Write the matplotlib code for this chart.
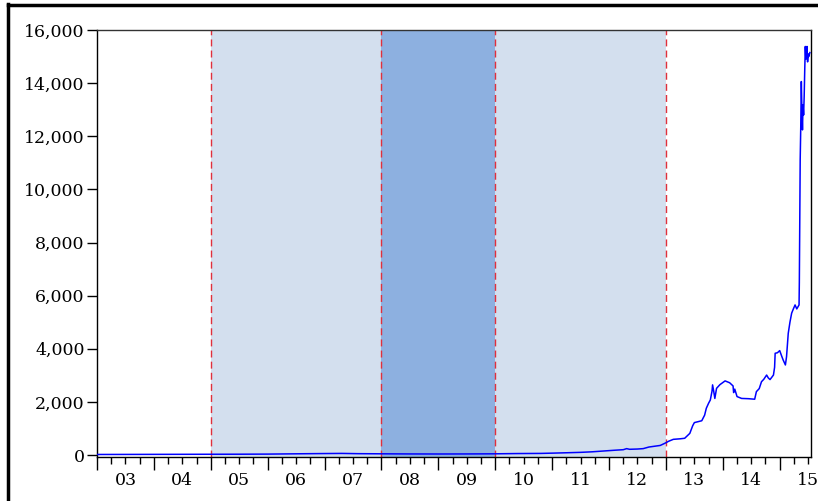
import matplotlib
matplotlib.use('Agg')
import matplotlib.pyplot as plt
from matplotlib.lines import Line2D
from matplotlib.ticker import FuncFormatter, FixedLocator

# price series, decimal years
years = [2003.0, 2003.5, 2004.0, 2004.5, 2005.0, 2005.5, 2006.0, 2006.5, 2007.0,
         2007.3, 2007.6, 2008.0, 2008.5, 2009.0, 2009.5, 2010.0, 2010.4, 2010.8,
         2011.0, 2011.26, 2011.5, 2011.7, 2011.9, 2012.1, 2012.25, 2012.31, 2012.36,
         2012.5, 2012.6, 2012.7, 2012.8, 2012.9, 2012.98, 2013.05, 2013.13, 2013.25,
         2013.33, 2013.42, 2013.47, 2013.5, 2013.63, 2013.68, 2013.71, 2013.75,
         2013.78, 2013.81, 2013.82, 2013.84, 2013.86, 2013.89, 2013.95, 2014.04,
         2014.12, 2014.18, 2014.19, 2014.21, 2014.25, 2014.33, 2014.45, 2014.56,
         2014.59, 2014.64, 2014.68, 2014.72, 2014.77, 2014.8, 2014.83, 2014.89,
         2014.91, 2014.92, 2014.96, 2015.0, 2015.03, 2015.06, 2015.1, 2015.12,
         2015.15, 2015.18, 2015.21, 2015.24, 2015.27, 2015.3, 2015.34, 2015.345,
         2015.35, 2015.36, 2015.37, 2015.38, 2015.39, 2015.4, 2015.41, 2015.42,
         2015.43, 2015.44, 2015.45, 2015.46, 2015.47, 2015.48, 2015.49, 2015.5,
         2015.51, 2015.53]
price = [20, 22, 24, 26, 28, 30, 34, 45, 55, 60, 50, 45, 40, 38, 40, 45, 55, 60,
         70, 85, 100, 120, 150, 180, 200, 240, 215, 225, 240, 300, 330, 360, 440,
         520, 590, 610, 630, 815, 1100, 1220, 1290, 1500, 1760, 1950, 2070, 2400,
         2640, 2400, 2130, 2510, 2650, 2790, 2720, 2600, 2350, 2480, 2200, 2130,
         2120, 2100, 2385, 2500, 2760, 2850, 3010, 2900, 2840, 3010, 3300, 3830,
         3850, 3930, 3750, 3580, 3390, 3700, 4580, 5000, 5340, 5500, 5650, 5500,
         5650, 6500, 8030, 11110, 12360, 14060, 13000, 12240, 13180, 12800, 13500,
         14500, 15380, 14900, 15200, 15380, 14800, 15100, 15000, 15150]

# policy periods
light_spans = [(2005.0, 2008.0), (2010.0, 2013.0)]
dark_spans = [(2008.0, 2010.0)]
breaks = [2005.0, 2008.0, 2010.0, 2013.0]

year_ticks = list(range(2003, 2016))
year_labels = ['03', '04', '05', '06', '07', '08', '09', '10', '11', '12', '13', '14', '15']

plt.rcParams['font.family'] = ['DejaVu Serif']

fig = plt.figure(figsize=(8.18, 5.01), dpi=100)
ax = fig.add_axes([97 / 818, 1 - 457 / 501, 714 / 818, 427 / 501])

for a, b in light_spans:
    ax.axvspan(a, b, color='#d3dfee', lw=0, zorder=0)
for a, b in dark_spans:
    ax.axvspan(a, b, color='#8db0e0', lw=0, zorder=0)
for x in breaks:
    ax.axvline(x, color='#e0303c', lw=1.0, dashes=(5, 3), zorder=1)

ax.plot(years, price, color='#0000ff', lw=1.1, zorder=3)

ax.set_xlim(2003.0, 2015.55)
ax.set_ylim(-75, 16000)

ax.set_yticks(range(0, 16001, 2000))
ax.yaxis.set_major_formatter(FuncFormatter(lambda v, p: f'{int(v):,}'))

ax.set_xticks(year_ticks)
ax.set_xticklabels([])
ax.xaxis.set_minor_locator(FixedLocator([y + q for y in range(2003, 2016) for q in (0.25, 0.5, 0.75)
                                         if y + q < 2015.55]))
for yr, lab in zip(year_ticks, year_labels):
    ax.text(yr + 0.5, -0.055, lab, transform=ax.get_xaxis_transform(),
            ha='center', va='center', fontsize=12.5)

ax.tick_params(axis='y', direction='out', length=7, width=1, labelsize=12.5, pad=2)
ax.tick_params(axis='x', which='major', direction='out', length=9, width=1)
ax.tick_params(axis='x', which='minor', direction='out', length=5, width=1)
for s in ax.spines.values():
    s.set_linewidth(1.0)
    s.set_color('black')
ax.spines['top'].set_color('#333333')

# outer frame lines
fig.add_artist(Line2D([8 / 818, 8 / 818], [0, 1 - 4 / 501], color='black', lw=2.5,
                      transform=fig.transFigure))
fig.add_artist(Line2D([8 / 818, 1], [1 - 5 / 501, 1 - 5 / 501], color='black', lw=2.5,
                      transform=fig.transFigure))

fig.savefig('out.png', dpi=100)
